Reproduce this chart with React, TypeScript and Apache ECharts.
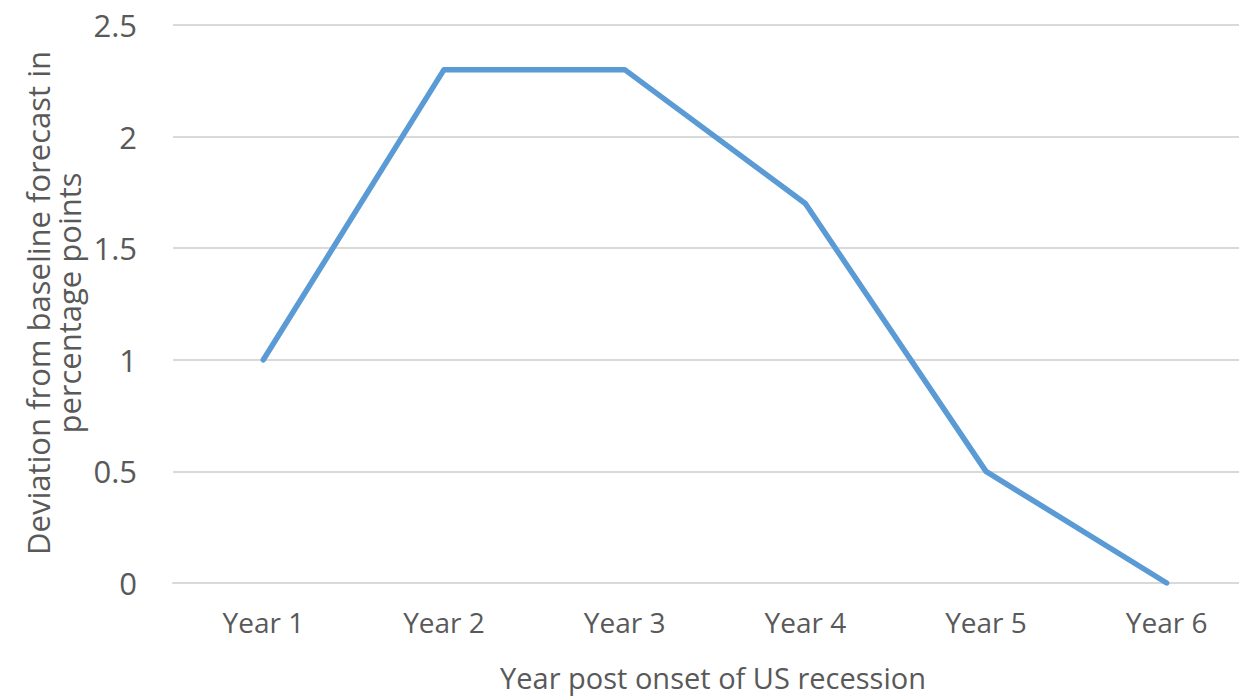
import React, { useEffect, useRef } from "react";
import * as echarts from "echarts";

const categories = ["Year 1", "Year 2", "Year 3", "Year 4", "Year 5", "Year 6"];
const deviation = [1, 2.3, 2.3, 1.7, 0.5, 0];
const xTitle = "Year post onset of US recession";
const yTitleLines = ["Deviation from baseline forecast in", "percentage points"];

const FONT = "'Open Sans', sans-serif";
const TEXT = "#595959";

export default function App() {
  const ref = useRef<HTMLDivElement>(null);
  useEffect(() => {
    document.body.style.margin = "0";
    const chart = echarts.init(ref.current!, null, { renderer: "svg" });
    chart.setOption({
      animation: false,
      backgroundColor: "#ffffff",
      grid: { left: 173, right: 0, top: 25, bottom: 114, containLabel: false },
      xAxis: {
        type: "category",
        data: categories,
        boundaryGap: true,
        axisLine: { show: true, lineStyle: { color: "#d9d9d9", width: 2 } },
        axisTick: { show: false },
        axisLabel: { color: TEXT, fontFamily: FONT, fontSize: 28, margin: 25 },
        splitLine: { show: false },
      },
      yAxis: {
        type: "value",
        min: 0,
        max: 2.5,
        interval: 0.5,
        axisLine: { show: false },
        axisTick: { show: false },
        axisLabel: { color: TEXT, fontFamily: FONT, fontSize: 31, margin: 36 },
        splitLine: { lineStyle: { color: "#d9d9d9", width: 2 } },
      },
      graphic: [
        {
          type: "text",
          x: 713,
          y: 677,
          style: {
            text: xTitle,
            fill: TEXT,
            font: `29px ${FONT}`,
            textAlign: "center",
            textVerticalAlign: "middle",
          },
        },
        {
          type: "text",
          x: 53,
          y: 303,
          rotation: Math.PI / 2,
          style: {
            text: yTitleLines.join("\n"),
            fill: TEXT,
            font: `31px ${FONT}`,
            lineHeight: 31,
            textAlign: "center",
            textVerticalAlign: "middle",
          },
        },
      ],
      series: [
        {
          type: "line",
          data: deviation,
          symbol: "none",
          lineStyle: { color: "#5b9bd5", width: 5.5, cap: "round", join: "round" },
        },
      ],
    });
    return () => chart.dispose();
  }, []);
  return (
    <div style={{ width: 1239, height: 697, overflow: "hidden" }}>
      <div ref={ref} style={{ width: 1257, height: 697 }} />
    </div>
  );
}
